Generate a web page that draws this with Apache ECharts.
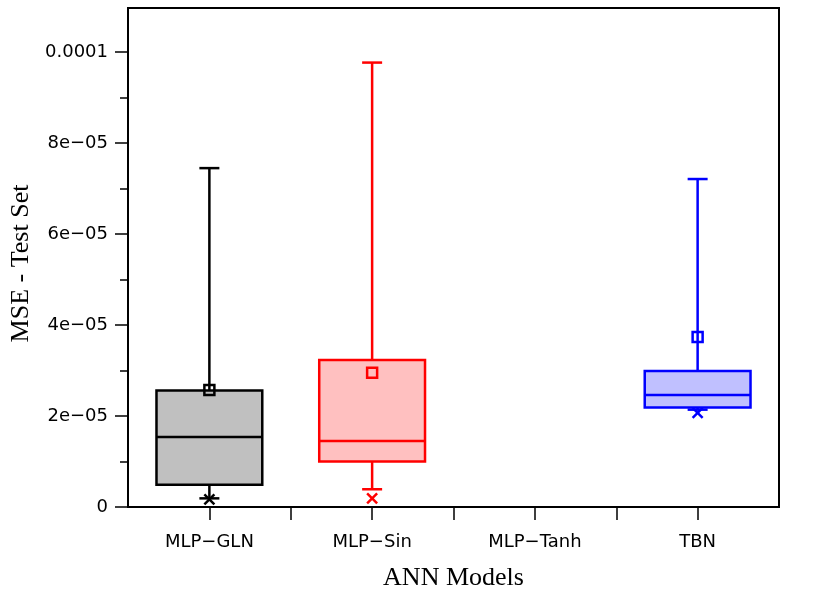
<!DOCTYPE html>
<html><head><meta charset="utf-8">
<script src="https://cdn.jsdelivr.net/npm/echarts@6/dist/echarts.min.js"></script>
<style>html,body{margin:0;padding:0;background:#fff}#c{width:830px;height:608px}</style>
</head><body><div id="c"></div>
<script>
const categories = ['MLP\u2212GLN', 'MLP\u2212Sin', 'MLP\u2212Tanh', 'TBN'];
const whiskerLow = [1.9e-6, 3.9e-6, null, 2.14e-5];
const q1 = [4.9e-6, 1.0e-5, null, 2.19e-5];
const median = [1.54e-5, 1.45e-5, null, 2.46e-5];
const q3 = [2.56e-5, 3.23e-5, null, 2.99e-5];
const whiskerHigh = [7.45e-5, 9.77e-5, null, 7.21e-5];
const mean = [2.57e-5, 2.95e-5, null, 3.74e-5];
const minimum = [1.7e-6, 1.9e-6, null, 2.07e-5];
const yTickValues = [0, 2e-5, 4e-5, 6e-5, 8e-5, 1e-4];
const yTickLabels = ['0', '2e\u221205', '4e\u221205', '6e\u221205', '8e\u221205', '0.0001'];
const yMinorTicks = [1e-5, 3e-5, 5e-5, 7e-5, 9e-5];
const yMax = 1.097e-4;
const xTickValues = [1, 1.5, 2, 2.5, 3, 3.5, 4];
const xLabelValues = [1, 2, 3, 4];

const strokeColors = ['#000000', '#ff0000', '#000000', '#0000ff'];
const fillColors = ['#c0c0c0', '#ffc0c0', '#c0c0c0', '#c0c0ff'];

const data = [];
categories.forEach((c, i) => {
  if (q1[i] == null) return;
  data.push([i + 1, whiskerLow[i], q1[i], median[i], q3[i], whiskerHigh[i], mean[i], minimum[i]]);
});

function renderItem(params, api) {
  const x = api.value(0);
  const idx = Math.round(x) - 1;
  const stroke = strokeColors[idx], fill = fillColors[idx];
  const pLow = api.coord([x, api.value(1)]);
  const pQ1 = api.coord([x, api.value(2)]);
  const pMed = api.coord([x, api.value(3)]);
  const pQ3 = api.coord([x, api.value(4)]);
  const pHigh = api.coord([x, api.value(5)]);
  const pMean = api.coord([x, api.value(6)]);
  const pMin = api.coord([x, api.value(7)]);
  const cx = pQ1[0];
  const band = api.size([1, 0])[0];
  const hw = band * 0.325;
  const cw = 10;
  const ls = { stroke: stroke, lineWidth: 2.5, fill: null };
  const m = 5;
  return {
    type: 'group',
    children: [
      { type: 'line', shape: { x1: cx, y1: pQ3[1], x2: cx, y2: pHigh[1] }, style: ls },
      { type: 'line', shape: { x1: cx, y1: pQ1[1], x2: cx, y2: pLow[1] }, style: ls },
      { type: 'line', shape: { x1: cx - cw, y1: pHigh[1], x2: cx + cw, y2: pHigh[1] }, style: ls },
      { type: 'line', shape: { x1: cx - cw, y1: pLow[1], x2: cx + cw, y2: pLow[1] }, style: ls },
      { type: 'rect', shape: { x: cx - hw, y: pQ3[1], width: 2 * hw, height: pQ1[1] - pQ3[1] },
        style: { fill: fill, stroke: stroke, lineWidth: 2.5 } },
      { type: 'line', shape: { x1: cx - hw, y1: pMed[1], x2: cx + hw, y2: pMed[1] }, style: ls },
      { type: 'rect', shape: { x: cx - m, y: pMean[1] - m, width: 2 * m, height: 2 * m }, style: ls },
      { type: 'line', shape: { x1: cx - m, y1: pMin[1] - m, x2: cx + m, y2: pMin[1] + m }, style: ls },
      { type: 'line', shape: { x1: cx - m, y1: pMin[1] + m, x2: cx + m, y2: pMin[1] - m }, style: ls }
    ]
  };
}

const chart = echarts.init(document.getElementById('c'), null, { renderer: 'canvas' });
chart.setOption({
  animation: false,
  backgroundColor: '#fff',
  grid: { left: 128, right: 51, top: 8, bottom: 101, show: true, borderColor: '#000', borderWidth: 2 },
  xAxis: {
    type: 'value', min: 0.5, max: 4.5,
    name: 'ANN Models', nameLocation: 'middle', nameGap: 58,
    nameTextStyle: { fontFamily: 'Liberation Serif', fontSize: 26, color: '#000' },
    axisLine: { show: true, lineStyle: { color: '#000', width: 2 } },
    axisTick: { show: true, length: 13, customValues: xTickValues, lineStyle: { color: '#000', width: 1.5 } },
    axisLabel: {
      customValues: xLabelValues, margin: 26,
      fontFamily: 'DejaVu Sans', fontSize: 18, color: '#000',
      formatter: v => categories[Math.round(v) - 1]
    },
    splitLine: { show: false }
  },
  yAxis: [{
    type: 'value', min: 0, max: yMax,
    name: 'MSE - Test Set', nameLocation: 'middle', nameGap: 86,
    nameTextStyle: { fontFamily: 'Liberation Serif', fontSize: 26, color: '#000', padding: [0, 12, 0, 0] },
    axisLine: { show: true, lineStyle: { color: '#000', width: 2 } },
    axisTick: { show: true, length: 13, customValues: yTickValues, lineStyle: { color: '#000', width: 1.5 } },
    axisLabel: {
      customValues: yTickValues, margin: 20,
      fontFamily: 'DejaVu Sans', fontSize: 18, color: '#000',
      formatter: v => {
        let k = 0;
        yTickValues.forEach((t, j) => { if (Math.abs(t - v) < 1e-9) k = j; });
        return yTickLabels[k];
      }
    },
    splitLine: { show: false }
  }, {
    type: 'value', min: 0, max: yMax, position: 'left',
    axisLine: { show: false },
    axisTick: { show: true, length: 8, customValues: yMinorTicks, lineStyle: { color: '#000', width: 1.5 } },
    axisLabel: { show: false },
    splitLine: { show: false }
  }],
  series: [{
    type: 'custom',
    renderItem: renderItem,
    data: data,
    encode: { x: 0, y: [1, 2, 3, 4, 5, 6, 7] },
    yAxisIndex: 0,
    clip: false
  }]
});
</script>
</body></html>
